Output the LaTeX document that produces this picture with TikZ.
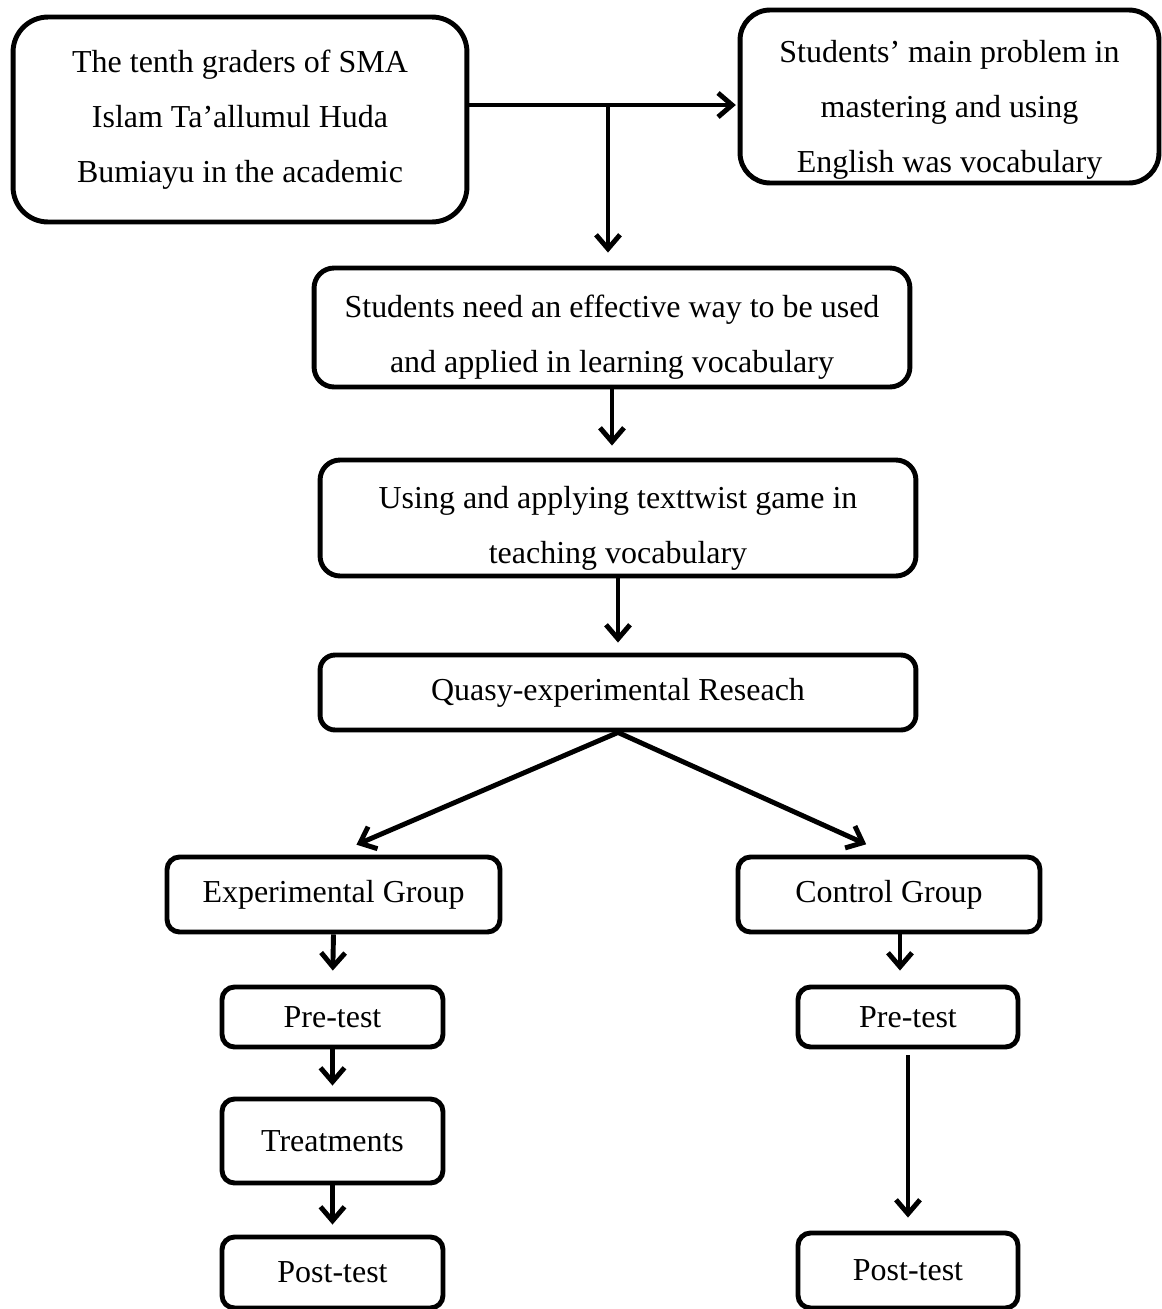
\documentclass[tikz,border=0pt]{standalone}
\usepackage{fontspec}
\setmainfont{Liberation Serif}
\usetikzlibrary{arrows.meta, positioning, calc}

% taller first line, pushes the text block down in its box
\newcommand{\lowtext}[1]{\rule{0pt}{#1}}

\begin{document}
\begin{tikzpicture}[
  x=0.02cm, y=-0.02cm,
  >={Straight Barb[length=2.8mm, width=4.8mm]},
  box/.style={draw, line width=2.8pt, fill=white, rounded corners=#1,
    font=\fontsize{18.2}{31.3}\selectfont, align=center, inner sep=0pt},
  box/.default=0.25cm,
  arr/.style={->, line width=2.8pt},
]

% Page frame
\useasboundingbox (0,0) rectangle (1162,1309);

% === Top row: subjects and problem ===
\node[box=0.7cm, minimum width=9.08cm, minimum height=4.1cm] (tenth) at (240,119.5)
  {The tenth graders of SMA\\ Islam Ta’allumul Huda\\ Bumiayu in the academic};
\node[box=0.6cm, minimum width=8.38cm, minimum height=3.46cm] (problem) at (949.5,96.5)
  {\lowtext{28pt}Students’ main problem in\\ mastering and using\\ English was vocabulary};

% Split point on the connecting line
\coordinate (split) at (608,105);
\draw[arr, shorten >=1pt] (tenth.east |- split) -- (problem.west |- split);

% === Need and solution ===
\node[box=0.4cm, minimum width=11.92cm, minimum height=2.38cm] (need) at (612,327.5)
  {\lowtext{24pt}Students need an effective way to be used\\ and applied in learning vocabulary};
\draw[arr, shorten >=0.26cm] (split) -- (split |- need.north);

\node[box=0.4cm, minimum width=11.92cm, minimum height=2.32cm] (texttwist) at (618,518)
  {\lowtext{24pt}Using and applying texttwist game in\\ teaching vocabulary};
\draw[arr, shorten >=0.24cm] (need.south) -- (need.south |- texttwist.north);

% === Research design ===
\node[box=0.3cm, minimum width=11.92cm, minimum height=1.5cm] (quasy) at (618,692.5)
  {Quasy-experimental Reseach};
\draw[arr, shorten >=0.2cm] (texttwist.south) -- (texttwist.south |- quasy.north);

% === Two groups ===
\node[box, minimum width=6.66cm, minimum height=1.5cm] (expgroup) at (333.5,894.5)
  {Experimental Group};
\node[box, minimum width=6.04cm, minimum height=1.5cm] (ctrlgroup) at (889,894.5)
  {Control Group};
\draw[arr, shorten >=0.5cm] (quasy.south) -- (expgroup.north);
\draw[arr, shorten >=0.5cm] (quasy.south) -- (ctrlgroup.north);

% Experimental branch
\node[box, minimum width=4.42cm, minimum height=1.2cm] (expre) at (332.5,1017) {Pre-test};
\node[box, minimum width=4.42cm, minimum height=1.68cm] (treat) at (332.5,1141) {Treatments};
\node[box, minimum width=4.42cm, minimum height=1.42cm] (expost) at (332.5,1272.5) {Post-test};
\draw[arr, shorten >=0.28cm] (expgroup.south) -- (expre.north);
\draw[arr, shorten >=0.22cm] (expre.south) -- (treat.north);
\draw[arr, shorten >=0.2cm] (treat.south) -- (expost.north);

% Control branch
\node[box, minimum width=4.4cm, minimum height=1.2cm] (ctrlpre) at (908,1017) {Pre-test};
\node[box, minimum width=4.4cm, minimum height=1.5cm] (ctrlpost) at (908,1270.5) {Post-test};
\draw[arr, shorten >=0.28cm] ($(ctrlgroup.south)+(11,0)$) -- ($(ctrlpre.north)+(-8,0)$);
\draw[arr, shorten <=0.12cm, shorten >=0.26cm] (ctrlpre.south) -- (ctrlpost.north);

\end{tikzpicture}
\end{document}
